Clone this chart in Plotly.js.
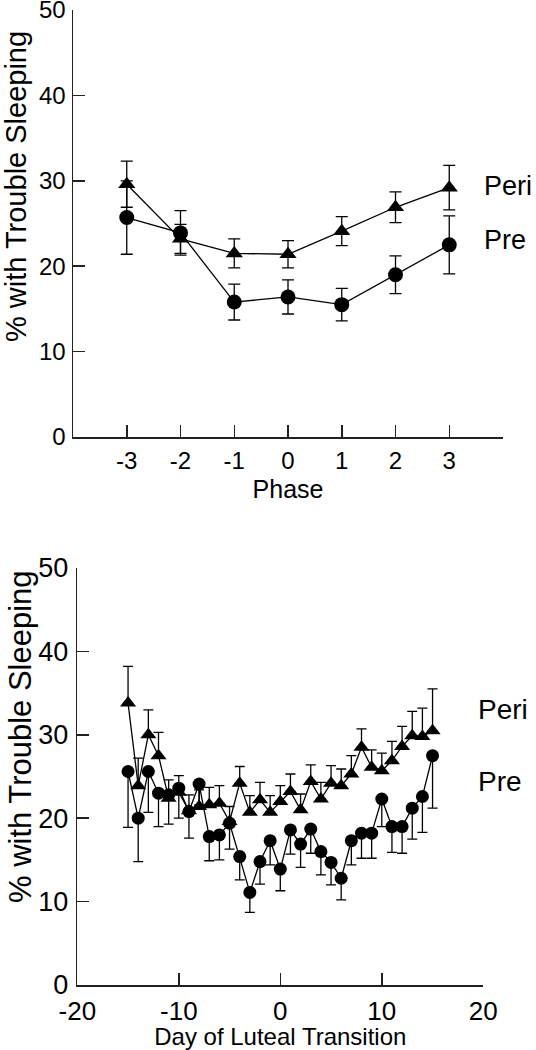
<!DOCTYPE html>
<html><head><meta charset="utf-8">
<script src="https://cdn.plot.ly/plotly-3.0.1.min.js"></script>
<style>html,body{margin:0;padding:0;background:#fff}</style>
</head><body><div id="chart" style="width:536px;height:1050px"></div>
<script>
// Top panel: by phase
const phases = [-3, -2, -1, 0, 1, 2, 3];
const phaseTickVals = [-3, -2, -1, 0, 1, 2, 3, 4];
const phaseTickText = ['-3', '-2', '-1', '0', '1', '2', '3', ''];
const phasePeri = [29.6, 23.2, 21.5, 21.4, 24.1, 26.9, 29.2];
const phasePeriSE = [2.7, 1.7, 1.7, 1.6, 1.7, 1.8, 2.6];
const phasePre = [25.7, 23.9, 15.8, 16.4, 15.5, 19.0, 22.5];
const phasePreSE = [4.3, 2.6, 2.1, 2.0, 1.9, 2.2, 3.4];

// Bottom panel: by day of luteal transition
const days = [-15,-14,-13,-12,-11,-10,-9,-8,-7,-6,-5,-4,-3,-2,-1,0,1,2,3,4,5,6,7,8,9,10,11,12,13,14,15];
const dayPeri = [33.8,23.9,30.0,27.5,22.4,23.1,20.9,21.4,21.6,21.8,19.6,24.2,20.7,22.2,20.7,22.0,23.2,21.0,24.4,22.3,24.2,23.9,25.3,28.5,26.1,25.7,26.9,28.6,29.9,29.8,30.5];
const dayPeriSEup = [4.4,3.3,3.0,2.8,2.2,2.0,1.9,2.0,2.1,2.1,1.8,2.0,2.0,2.1,2.0,1.9,2.1,1.9,2.0,2.0,2.1,2.0,2.2,2.2,2.1,2.1,2.3,2.4,2.9,3.4,5.0];
const dayPre = [25.6,20.0,25.6,23.0,22.8,23.6,20.8,24.1,17.8,18.0,19.4,15.4,11.1,14.8,17.3,13.9,18.6,16.9,18.7,16.0,14.7,12.8,17.3,18.2,18.2,22.3,19.0,19.0,21.2,22.6,27.5];
const dayPreSEdown = [6.7,5.2,4.9,4.0,3.5,3.6,3.2,2.5,2.9,3.0,3.1,2.8,2.4,2.7,2.9,2.6,2.9,2.8,2.9,2.8,2.7,2.6,2.9,3.0,3.0,3.3,3.1,3.2,3.7,4.3,6.3];
const dayTickVals = [-20, -10, 0, 10, 20];
const dayTickText = ['-20', '-10', '0', '10', '20'];
const yTickVals = [0, 10, 20, 30, 40, 50];
const yTickText = ['0', '10', '20', '30', '40', '50'];
const yTitle = '% with Trouble Sleeping';

const zeros = days.map(() => 0);
const FONT = 'Liberation Sans, Arial, Helvetica, sans-serif';
const BLACK = '#000';

const traces = [
  {x: phases, y: phasePeri, xaxis: 'x', yaxis: 'y', mode: 'lines+markers', name: 'Peri',
   line: {color: BLACK, width: 1.3}, marker: {symbol: 'triangle-up', size: 15, color: BLACK},
   error_y: {type: 'data', array: phasePeriSE, visible: true, color: BLACK, thickness: 1.3, width: 6}},
  {x: phases, y: phasePre, xaxis: 'x', yaxis: 'y', mode: 'lines+markers', name: 'Pre',
   line: {color: BLACK, width: 1.3}, marker: {symbol: 'circle', size: 15, color: BLACK},
   error_y: {type: 'data', array: phasePreSE, visible: true, color: BLACK, thickness: 1.3, width: 6}},
  {x: days, y: dayPeri, xaxis: 'x2', yaxis: 'y2', mode: 'lines+markers', name: 'Peri',
   line: {color: BLACK, width: 1.3}, marker: {symbol: 'triangle-up', size: 14, color: BLACK},
   error_y: {type: 'data', symmetric: false, array: dayPeriSEup, arrayminus: zeros, visible: true, color: BLACK, thickness: 1.3, width: 5}},
  {x: days, y: dayPre, xaxis: 'x2', yaxis: 'y2', mode: 'lines+markers', name: 'Pre',
   line: {color: BLACK, width: 1.3}, marker: {symbol: 'circle', size: 13, color: BLACK},
   error_y: {type: 'data', symmetric: false, array: zeros, arrayminus: dayPreSEdown, visible: true, color: BLACK, thickness: 1.3, width: 5}}
];

const W = 536, H = 1050;
const axBase = {showline: true, linecolor: '#222', linewidth: 1.5, ticks: 'inside', ticklen: 12,
  tickwidth: 1.5, tickcolor: '#222', showgrid: false, zeroline: false, fixedrange: true,
  ticklabeloverflow: 'allow'};

const layout = {
  width: W, height: H, margin: {l: 0, r: 0, t: 0, b: 0}, showlegend: false,
  paper_bgcolor: '#fff', plot_bgcolor: 'rgba(0,0,0,0)',
  font: {family: FONT, color: BLACK},
  xaxis: Object.assign({}, axBase, {domain: [73/W, 503/W], anchor: 'y', range: [-4, 4],
    tickmode: 'array', tickvals: phaseTickVals, ticktext: phaseTickText, ticklabelstandoff: 2,
    tickfont: {size: 24, family: FONT}, title: {text: 'Phase', font: {size: 25, family: FONT}, standoff: 7}}),
  yaxis: Object.assign({}, axBase, {domain: [1-437/H, 1-10/H], anchor: 'x', range: [0, 50],
    tickmode: 'array', tickvals: yTickVals, ticktext: yTickText, ticklabelstandoff: 1,
    tickfont: {size: 24, family: FONT}}),
  xaxis2: Object.assign({}, axBase, {domain: [77.3/W, 483.3/W], anchor: 'y2', range: [-20, 20],
    tickmode: 'array', tickvals: dayTickVals, ticktext: dayTickText, ticklabelstandoff: 2,
    tickfont: {size: 26, family: FONT},
    title: {text: 'Day of Luteal Transition', font: {size: 24, family: FONT}, standoff: 9}}),
  yaxis2: Object.assign({}, axBase, {domain: [1-985/H, 1-568/H], anchor: 'x2', range: [0, 50],
    tickmode: 'array', tickvals: yTickVals, ticktext: yTickText, ticklabelstandoff: 2,
    tickfont: {size: 27, family: FONT}}),
  annotations: [
    {text: yTitle, xref: 'paper', yref: 'paper', x: 16/W, y: 1-187/H, textangle: -90,
     showarrow: false, xanchor: 'center', yanchor: 'middle', font: {size: 29, family: FONT}},
    {text: yTitle, xref: 'paper', yref: 'paper', x: 20/W, y: 1-737/H, textangle: -90,
     showarrow: false, xanchor: 'center', yanchor: 'middle', font: {size: 31, family: FONT}},
    {text: 'Peri', xref: 'paper', yref: 'paper', x: 482/W, y: 1-186/H, showarrow: false,
     xanchor: 'left', yanchor: 'middle', font: {size: 27, family: FONT}},
    {text: 'Pre', xref: 'paper', yref: 'paper', x: 482/W, y: 1-240/H, showarrow: false,
     xanchor: 'left', yanchor: 'middle', font: {size: 27, family: FONT}},
    {text: 'Peri', xref: 'paper', yref: 'paper', x: 476/W, y: 1-709/H, showarrow: false,
     xanchor: 'left', yanchor: 'middle', font: {size: 28, family: FONT}},
    {text: 'Pre', xref: 'paper', yref: 'paper', x: 476/W, y: 1-781/H, showarrow: false,
     xanchor: 'left', yanchor: 'middle', font: {size: 28, family: FONT}}
  ]
};

Plotly.newPlot('chart', traces, layout, {staticPlot: true, displayModeBar: false});
</script></body></html>
